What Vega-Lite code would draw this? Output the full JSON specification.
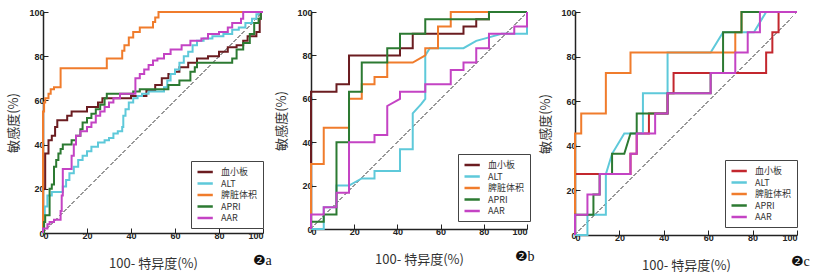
{
"$schema": "https://vega.github.io/schema/vega-lite/v6.json",
"padding": {"left": 7, "top": 8, "right": 4, "bottom": 4},
"spacing": 48,
"bounds": "flush",
"config": {
 "view": {"stroke": null},
 "axis": {"domainColor": "#222", "domainWidth": 1.5, "tickColor": "#222", "tickWidth": 1, "grid": false, "labelFont": "Liberation Sans", "labelFontWeight": "bold", "labelFontSize": 9, "labelColor": "#222", "titleFont": "Noto Sans CJK SC", "titleFontSize": 13, "titleFontWeight": "normal", "titleColor": "#333"},
 "legend": {"title": null, "orient": "none", "symbolType": "M-1,0H2.4", "symbolStrokeWidth": 2.5, "symbolSize": 81, "labelFont": "Noto Sans CJK SC", "labelFontSize": 9, "labelColor": "#333", "labelLimit": 80, "strokeColor": "#444", "fillColor": "white", "padding": 5, "rowPadding": 0.5, "labelOffset": 13}
},
"datasets": {
 "a": [
  {"s":"血小板","x":0,"y":0},{"s":"血小板","x":0,"y":20},{"s":"血小板","x":1,"y":20},{"s":"血小板","x":1,"y":36},{"s":"血小板","x":2.5,"y":36},{"s":"血小板","x":2.5,"y":42},{"s":"血小板","x":4,"y":42},{"s":"血小板","x":4,"y":44},{"s":"血小板","x":5.5,"y":44},{"s":"血小板","x":5.5,"y":48},{"s":"血小板","x":6.5,"y":48},{"s":"血小板","x":6.5,"y":51},{"s":"血小板","x":11,"y":51},{"s":"血小板","x":11,"y":53},{"s":"血小板","x":13,"y":53},{"s":"血小板","x":13,"y":55},{"s":"血小板","x":20,"y":55},{"s":"血小板","x":20,"y":57},{"s":"血小板","x":25,"y":57},{"s":"血小板","x":25,"y":59},{"s":"血小板","x":27,"y":59},{"s":"血小板","x":27,"y":61},{"s":"血小板","x":40,"y":61},{"s":"血小板","x":40,"y":62},{"s":"血小板","x":47,"y":62},{"s":"血小板","x":47,"y":64.5},{"s":"血小板","x":51,"y":64.5},{"s":"血小板","x":51,"y":67},{"s":"血小板","x":54,"y":67},{"s":"血小板","x":54,"y":70},{"s":"血小板","x":57,"y":70},{"s":"血小板","x":57,"y":72},{"s":"血小板","x":60,"y":72},{"s":"血小板","x":60,"y":73},{"s":"血小板","x":62,"y":73},{"s":"血小板","x":62,"y":75},{"s":"血小板","x":66,"y":75},{"s":"血小板","x":66,"y":77},{"s":"血小板","x":70,"y":77},{"s":"血小板","x":70,"y":79},{"s":"血小板","x":75,"y":79},{"s":"血小板","x":75,"y":80},{"s":"血小板","x":80,"y":80},{"s":"血小板","x":80,"y":82},{"s":"血小板","x":84,"y":82},{"s":"血小板","x":84,"y":84},{"s":"血小板","x":88,"y":84},{"s":"血小板","x":88,"y":85},{"s":"血小板","x":91,"y":85},{"s":"血小板","x":91,"y":87},{"s":"血小板","x":93,"y":87},{"s":"血小板","x":93,"y":89},{"s":"血小板","x":97,"y":89},{"s":"血小板","x":97,"y":91},{"s":"血小板","x":98.5,"y":91},{"s":"血小板","x":98.5,"y":97},{"s":"血小板","x":99,"y":97},{"s":"血小板","x":99,"y":100},{"s":"血小板","x":100,"y":100},
  {"s":"ALT","x":0,"y":0},{"s":"ALT","x":0,"y":5},{"s":"ALT","x":0.8,"y":5},{"s":"ALT","x":0.8,"y":12},{"s":"ALT","x":2,"y":12},{"s":"ALT","x":2,"y":17},{"s":"ALT","x":4,"y":17},{"s":"ALT","x":4,"y":18.5},{"s":"ALT","x":9,"y":18.5},{"s":"ALT","x":9,"y":21},{"s":"ALT","x":10.5,"y":21},{"s":"ALT","x":10.5,"y":24},{"s":"ALT","x":12,"y":24},{"s":"ALT","x":12,"y":27},{"s":"ALT","x":14,"y":27},{"s":"ALT","x":14,"y":30},{"s":"ALT","x":16,"y":30},{"s":"ALT","x":16,"y":33},{"s":"ALT","x":18,"y":33},{"s":"ALT","x":18,"y":35},{"s":"ALT","x":20,"y":35},{"s":"ALT","x":20,"y":37},{"s":"ALT","x":22,"y":37},{"s":"ALT","x":22,"y":39},{"s":"ALT","x":25,"y":39},{"s":"ALT","x":25,"y":41},{"s":"ALT","x":28,"y":41},{"s":"ALT","x":28,"y":42},{"s":"ALT","x":30,"y":42},{"s":"ALT","x":30,"y":43},{"s":"ALT","x":32,"y":43},{"s":"ALT","x":32,"y":45},{"s":"ALT","x":34,"y":45},{"s":"ALT","x":34,"y":46},{"s":"ALT","x":36,"y":46},{"s":"ALT","x":36,"y":48},{"s":"ALT","x":36.5,"y":48},{"s":"ALT","x":36.5,"y":53},{"s":"ALT","x":37.5,"y":53},{"s":"ALT","x":37.5,"y":56},{"s":"ALT","x":39,"y":56},{"s":"ALT","x":39,"y":59},{"s":"ALT","x":41,"y":59},{"s":"ALT","x":41,"y":61},{"s":"ALT","x":43,"y":61},{"s":"ALT","x":43,"y":62},{"s":"ALT","x":45,"y":62},{"s":"ALT","x":45,"y":63},{"s":"ALT","x":48,"y":63},{"s":"ALT","x":48,"y":64},{"s":"ALT","x":55,"y":64},{"s":"ALT","x":55,"y":66},{"s":"ALT","x":56.5,"y":66},{"s":"ALT","x":56.5,"y":69},{"s":"ALT","x":58,"y":69},{"s":"ALT","x":58,"y":72},{"s":"ALT","x":60,"y":72},{"s":"ALT","x":60,"y":74},{"s":"ALT","x":62,"y":74},{"s":"ALT","x":62,"y":77},{"s":"ALT","x":64,"y":77},{"s":"ALT","x":64,"y":80},{"s":"ALT","x":66,"y":80},{"s":"ALT","x":66,"y":82},{"s":"ALT","x":68,"y":82},{"s":"ALT","x":68,"y":85},{"s":"ALT","x":70,"y":85},{"s":"ALT","x":70,"y":87},{"s":"ALT","x":73,"y":87},{"s":"ALT","x":73,"y":88},{"s":"ALT","x":77,"y":88},{"s":"ALT","x":77,"y":89},{"s":"ALT","x":82,"y":89},{"s":"ALT","x":82,"y":90},{"s":"ALT","x":86,"y":90},{"s":"ALT","x":86,"y":92},{"s":"ALT","x":89,"y":92},{"s":"ALT","x":89,"y":93},{"s":"ALT","x":92,"y":93},{"s":"ALT","x":92,"y":95},{"s":"ALT","x":95,"y":95},{"s":"ALT","x":95,"y":97},{"s":"ALT","x":97,"y":97},{"s":"ALT","x":97,"y":99},{"s":"ALT","x":98,"y":99},{"s":"ALT","x":98,"y":100},{"s":"ALT","x":100,"y":100},
  {"s":"脾脏体积","x":0,"y":0},{"s":"脾脏体积","x":0,"y":55},{"s":"脾脏体积","x":0.5,"y":55},{"s":"脾脏体积","x":0.5,"y":59},{"s":"脾脏体积","x":1,"y":59},{"s":"脾脏体积","x":1,"y":61},{"s":"脾脏体积","x":2.5,"y":61},{"s":"脾脏体积","x":2.5,"y":63},{"s":"脾脏体积","x":3.5,"y":63},{"s":"脾脏体积","x":3.5,"y":65},{"s":"脾脏体积","x":5,"y":65},{"s":"脾脏体积","x":5,"y":66},{"s":"脾脏体积","x":8,"y":66},{"s":"脾脏体积","x":8,"y":74.5},{"s":"脾脏体积","x":29,"y":74.5},{"s":"脾脏体积","x":29,"y":79},{"s":"脾脏体积","x":36,"y":79},{"s":"脾脏体积","x":36,"y":82.5},{"s":"脾脏体积","x":37,"y":82.5},{"s":"脾脏体积","x":37,"y":85},{"s":"脾脏体积","x":39,"y":85},{"s":"脾脏体积","x":39,"y":88.5},{"s":"脾脏体积","x":41,"y":88.5},{"s":"脾脏体积","x":41,"y":91},{"s":"脾脏体积","x":44,"y":91},{"s":"脾脏体积","x":44,"y":93},{"s":"脾脏体积","x":50,"y":93},{"s":"脾脏体积","x":50,"y":95.5},{"s":"脾脏体积","x":51,"y":95.5},{"s":"脾脏体积","x":51,"y":97.5},{"s":"脾脏体积","x":52.5,"y":97.5},{"s":"脾脏体积","x":52.5,"y":100},{"s":"脾脏体积","x":100,"y":100},
  {"s":"APRI","x":0,"y":0},{"s":"APRI","x":0.5,"y":0},{"s":"APRI","x":0.5,"y":5},{"s":"APRI","x":1,"y":5},{"s":"APRI","x":1,"y":8},{"s":"APRI","x":3,"y":8},{"s":"APRI","x":3,"y":20},{"s":"APRI","x":4,"y":20},{"s":"APRI","x":4,"y":22},{"s":"APRI","x":5,"y":22},{"s":"APRI","x":5,"y":30},{"s":"APRI","x":6,"y":30},{"s":"APRI","x":6,"y":33},{"s":"APRI","x":7,"y":33},{"s":"APRI","x":7,"y":36},{"s":"APRI","x":8,"y":36},{"s":"APRI","x":8,"y":38},{"s":"APRI","x":9,"y":38},{"s":"APRI","x":9,"y":40},{"s":"APRI","x":13,"y":40},{"s":"APRI","x":13,"y":42},{"s":"APRI","x":15,"y":42},{"s":"APRI","x":15,"y":44},{"s":"APRI","x":17,"y":44},{"s":"APRI","x":17,"y":47},{"s":"APRI","x":18,"y":47},{"s":"APRI","x":18,"y":50},{"s":"APRI","x":20,"y":50},{"s":"APRI","x":20,"y":52},{"s":"APRI","x":22,"y":52},{"s":"APRI","x":22,"y":54},{"s":"APRI","x":24,"y":54},{"s":"APRI","x":24,"y":56},{"s":"APRI","x":26,"y":56},{"s":"APRI","x":26,"y":58},{"s":"APRI","x":28,"y":58},{"s":"APRI","x":28,"y":61},{"s":"APRI","x":29,"y":61},{"s":"APRI","x":29,"y":63},{"s":"APRI","x":41,"y":63},{"s":"APRI","x":41,"y":64},{"s":"APRI","x":44,"y":64},{"s":"APRI","x":44,"y":65},{"s":"APRI","x":57,"y":65},{"s":"APRI","x":57,"y":67},{"s":"APRI","x":62,"y":67},{"s":"APRI","x":62,"y":69},{"s":"APRI","x":67,"y":69},{"s":"APRI","x":67,"y":73},{"s":"APRI","x":69,"y":73},{"s":"APRI","x":69,"y":75},{"s":"APRI","x":70,"y":75},{"s":"APRI","x":70,"y":77},{"s":"APRI","x":86,"y":77},{"s":"APRI","x":86,"y":79},{"s":"APRI","x":88,"y":79},{"s":"APRI","x":88,"y":83},{"s":"APRI","x":91,"y":83},{"s":"APRI","x":91,"y":86},{"s":"APRI","x":94,"y":86},{"s":"APRI","x":94,"y":90},{"s":"APRI","x":96,"y":90},{"s":"APRI","x":96,"y":95},{"s":"APRI","x":98,"y":95},{"s":"APRI","x":98,"y":97},{"s":"APRI","x":99,"y":97},{"s":"APRI","x":99,"y":100},{"s":"APRI","x":100,"y":100},
  {"s":"AAR","x":0,"y":0},{"s":"AAR","x":0,"y":2},{"s":"AAR","x":2,"y":2},{"s":"AAR","x":2,"y":4},{"s":"AAR","x":3,"y":4},{"s":"AAR","x":3,"y":5},{"s":"AAR","x":5,"y":5},{"s":"AAR","x":5,"y":6},{"s":"AAR","x":8,"y":6},{"s":"AAR","x":8,"y":10},{"s":"AAR","x":8.5,"y":10},{"s":"AAR","x":8.5,"y":17},{"s":"AAR","x":9,"y":17},{"s":"AAR","x":9,"y":29},{"s":"AAR","x":13,"y":29},{"s":"AAR","x":13,"y":35},{"s":"AAR","x":14,"y":35},{"s":"AAR","x":14,"y":40},{"s":"AAR","x":15,"y":40},{"s":"AAR","x":15,"y":44},{"s":"AAR","x":17,"y":44},{"s":"AAR","x":17,"y":46},{"s":"AAR","x":20,"y":46},{"s":"AAR","x":20,"y":48},{"s":"AAR","x":22,"y":48},{"s":"AAR","x":22,"y":50},{"s":"AAR","x":24,"y":50},{"s":"AAR","x":24,"y":53},{"s":"AAR","x":26,"y":53},{"s":"AAR","x":26,"y":55},{"s":"AAR","x":28,"y":55},{"s":"AAR","x":28,"y":57},{"s":"AAR","x":30,"y":57},{"s":"AAR","x":30,"y":59},{"s":"AAR","x":32,"y":59},{"s":"AAR","x":32,"y":61},{"s":"AAR","x":35,"y":61},{"s":"AAR","x":35,"y":63},{"s":"AAR","x":42,"y":63},{"s":"AAR","x":42,"y":70},{"s":"AAR","x":44,"y":70},{"s":"AAR","x":44,"y":72},{"s":"AAR","x":46,"y":72},{"s":"AAR","x":46,"y":74},{"s":"AAR","x":48,"y":74},{"s":"AAR","x":48,"y":76},{"s":"AAR","x":50,"y":76},{"s":"AAR","x":50,"y":78},{"s":"AAR","x":52,"y":78},{"s":"AAR","x":52,"y":79},{"s":"AAR","x":55,"y":79},{"s":"AAR","x":55,"y":81},{"s":"AAR","x":58,"y":81},{"s":"AAR","x":58,"y":83},{"s":"AAR","x":63,"y":83},{"s":"AAR","x":63,"y":85},{"s":"AAR","x":67,"y":85},{"s":"AAR","x":67,"y":87},{"s":"AAR","x":72,"y":87},{"s":"AAR","x":72,"y":88},{"s":"AAR","x":75,"y":88},{"s":"AAR","x":75,"y":90},{"s":"AAR","x":80,"y":90},{"s":"AAR","x":80,"y":91},{"s":"AAR","x":84,"y":91},{"s":"AAR","x":84,"y":93},{"s":"AAR","x":86,"y":93},{"s":"AAR","x":86,"y":95},{"s":"AAR","x":90,"y":95},{"s":"AAR","x":90,"y":97},{"s":"AAR","x":91,"y":97},{"s":"AAR","x":91,"y":100},{"s":"AAR","x":100,"y":100}
 ],
 "b": [
  {"s":"血小板","x":0,"y":0},{"s":"血小板","x":0,"y":63.3},{"s":"血小板","x":11.8,"y":63.3},{"s":"血小板","x":11.8,"y":66.7},{"s":"血小板","x":17.6,"y":66.7},{"s":"血小板","x":17.6,"y":80},{"s":"血小板","x":41.2,"y":80},{"s":"血小板","x":41.2,"y":83.3},{"s":"血小板","x":47.1,"y":83.3},{"s":"血小板","x":47.1,"y":90},{"s":"血小板","x":70.6,"y":90},{"s":"血小板","x":70.6,"y":93.3},{"s":"血小板","x":76.5,"y":93.3},{"s":"血小板","x":76.5,"y":96.7},{"s":"血小板","x":82.4,"y":96.7},{"s":"血小板","x":82.4,"y":100},{"s":"血小板","x":100,"y":100},
  {"s":"ALT","x":0,"y":0},{"s":"ALT","x":5.9,"y":0},{"s":"ALT","x":5.9,"y":10},{"s":"ALT","x":11.8,"y":10},{"s":"ALT","x":11.8,"y":20},{"s":"ALT","x":17.6,"y":20},{"s":"ALT","x":23.5,"y":23.3},{"s":"ALT","x":29.4,"y":23.3},{"s":"ALT","x":29.4,"y":26.7},{"s":"ALT","x":41.2,"y":26.7},{"s":"ALT","x":41.2,"y":36.7},{"s":"ALT","x":47.1,"y":36.7},{"s":"ALT","x":47.1,"y":53.3},{"s":"ALT","x":51,"y":57.5},{"s":"ALT","x":52.9,"y":60},{"s":"ALT","x":52.9,"y":80},{"s":"ALT","x":55,"y":83.3},{"s":"ALT","x":70.6,"y":83.3},{"s":"ALT","x":76.5,"y":86.7},{"s":"ALT","x":82.4,"y":88.3},{"s":"ALT","x":88.2,"y":90},{"s":"ALT","x":100,"y":90},{"s":"ALT","x":100,"y":100},
  {"s":"脾脏体积","x":0,"y":0},{"s":"脾脏体积","x":0,"y":30},{"s":"脾脏体积","x":5.9,"y":30},{"s":"脾脏体积","x":5.9,"y":46.7},{"s":"脾脏体积","x":17.6,"y":46.7},{"s":"脾脏体积","x":17.6,"y":60},{"s":"脾脏体积","x":23.5,"y":60},{"s":"脾脏体积","x":23.5,"y":66.7},{"s":"脾脏体积","x":29.4,"y":66.7},{"s":"脾脏体积","x":29.4,"y":70},{"s":"脾脏体积","x":35.3,"y":70},{"s":"脾脏体积","x":35.3,"y":76.7},{"s":"脾脏体积","x":47.1,"y":76.7},{"s":"脾脏体积","x":52.9,"y":80},{"s":"脾脏体积","x":52.9,"y":83.3},{"s":"脾脏体积","x":58.8,"y":83.3},{"s":"脾脏体积","x":58.8,"y":93.3},{"s":"脾脏体积","x":64.7,"y":93.3},{"s":"脾脏体积","x":64.7,"y":100},{"s":"脾脏体积","x":100,"y":100},
  {"s":"APRI","x":0,"y":0},{"s":"APRI","x":0,"y":3.3},{"s":"APRI","x":5.9,"y":3.3},{"s":"APRI","x":5.9,"y":6.7},{"s":"APRI","x":11.8,"y":6.7},{"s":"APRI","x":11.8,"y":40},{"s":"APRI","x":17.6,"y":40},{"s":"APRI","x":17.6,"y":63.3},{"s":"APRI","x":23.5,"y":63.3},{"s":"APRI","x":23.5,"y":76.7},{"s":"APRI","x":35.3,"y":76.7},{"s":"APRI","x":35.3,"y":83.3},{"s":"APRI","x":41.2,"y":83.3},{"s":"APRI","x":41.2,"y":90},{"s":"APRI","x":52.9,"y":90},{"s":"APRI","x":52.9,"y":96.7},{"s":"APRI","x":82.4,"y":96.7},{"s":"APRI","x":82.4,"y":100},{"s":"APRI","x":100,"y":100},
  {"s":"AAR","x":0,"y":0},{"s":"AAR","x":0,"y":6.7},{"s":"AAR","x":5.9,"y":6.7},{"s":"AAR","x":5.9,"y":10},{"s":"AAR","x":11.8,"y":10},{"s":"AAR","x":11.8,"y":16.7},{"s":"AAR","x":17.6,"y":16.7},{"s":"AAR","x":17.6,"y":40},{"s":"AAR","x":29.4,"y":40},{"s":"AAR","x":29.4,"y":43.3},{"s":"AAR","x":35.3,"y":43.3},{"s":"AAR","x":35.3,"y":56.7},{"s":"AAR","x":41.2,"y":60},{"s":"AAR","x":41.2,"y":63.3},{"s":"AAR","x":52.9,"y":63.3},{"s":"AAR","x":52.9,"y":66.7},{"s":"AAR","x":64.7,"y":66.7},{"s":"AAR","x":64.7,"y":73.3},{"s":"AAR","x":70.6,"y":73.3},{"s":"AAR","x":70.6,"y":76.7},{"s":"AAR","x":76.5,"y":76.7},{"s":"AAR","x":76.5,"y":83.3},{"s":"AAR","x":82.4,"y":83.3},{"s":"AAR","x":82.4,"y":90},{"s":"AAR","x":94.1,"y":90},{"s":"AAR","x":94.1,"y":93.3},{"s":"AAR","x":100,"y":93.3},{"s":"AAR","x":100,"y":100}
 ],
 "c": [
  {"s":"血小板","x":0,"y":0},{"s":"血小板","x":0,"y":27.3},{"s":"血小板","x":25,"y":27.3},{"s":"血小板","x":25,"y":36.4},{"s":"血小板","x":27.8,"y":36.4},{"s":"血小板","x":27.8,"y":45.5},{"s":"血小板","x":33.3,"y":45.5},{"s":"血小板","x":33.3,"y":54.5},{"s":"血小板","x":41.7,"y":54.5},{"s":"血小板","x":41.7,"y":63.6},{"s":"血小板","x":44.4,"y":63.6},{"s":"血小板","x":44.4,"y":72.7},{"s":"血小板","x":86.1,"y":72.7},{"s":"血小板","x":86.1,"y":81.8},{"s":"血小板","x":88.9,"y":81.8},{"s":"血小板","x":88.9,"y":90.9},{"s":"血小板","x":91.7,"y":90.9},{"s":"血小板","x":91.7,"y":100},{"s":"血小板","x":100,"y":100},
  {"s":"ALT","x":0,"y":0},{"s":"ALT","x":5.6,"y":0},{"s":"ALT","x":5.6,"y":9.1},{"s":"ALT","x":13.9,"y":9.1},{"s":"ALT","x":13.9,"y":27.3},{"s":"ALT","x":16.7,"y":36.4},{"s":"ALT","x":22.2,"y":45.5},{"s":"ALT","x":30.6,"y":45.5},{"s":"ALT","x":30.6,"y":63.6},{"s":"ALT","x":41.7,"y":63.6},{"s":"ALT","x":41.7,"y":81.8},{"s":"ALT","x":61.1,"y":81.8},{"s":"ALT","x":66.7,"y":90.9},{"s":"ALT","x":80.6,"y":90.9},{"s":"ALT","x":86.1,"y":100},{"s":"ALT","x":100,"y":100},
  {"s":"脾脏体积","x":0,"y":0},{"s":"脾脏体积","x":0,"y":45.5},{"s":"脾脏体积","x":2.8,"y":45.5},{"s":"脾脏体积","x":2.8,"y":54.5},{"s":"脾脏体积","x":13.9,"y":54.5},{"s":"脾脏体积","x":13.9,"y":72.7},{"s":"脾脏体积","x":25,"y":72.7},{"s":"脾脏体积","x":25,"y":81.8},{"s":"脾脏体积","x":72.2,"y":81.8},{"s":"脾脏体积","x":72.2,"y":90.9},{"s":"脾脏体积","x":75,"y":90.9},{"s":"脾脏体积","x":75,"y":100},{"s":"脾脏体积","x":100,"y":100},
  {"s":"APRI","x":0,"y":0},{"s":"APRI","x":0,"y":9.1},{"s":"APRI","x":8.3,"y":9.1},{"s":"APRI","x":8.3,"y":18.2},{"s":"APRI","x":11.1,"y":18.2},{"s":"APRI","x":11.1,"y":27.3},{"s":"APRI","x":16.7,"y":27.3},{"s":"APRI","x":16.7,"y":36.4},{"s":"APRI","x":22.2,"y":36.4},{"s":"APRI","x":25,"y":45.5},{"s":"APRI","x":27.8,"y":45.5},{"s":"APRI","x":27.8,"y":54.5},{"s":"APRI","x":41.7,"y":54.5},{"s":"APRI","x":41.7,"y":63.6},{"s":"APRI","x":61.1,"y":63.6},{"s":"APRI","x":61.1,"y":72.7},{"s":"APRI","x":66.7,"y":72.7},{"s":"APRI","x":66.7,"y":90.9},{"s":"APRI","x":75,"y":90.9},{"s":"APRI","x":75,"y":100},{"s":"APRI","x":100,"y":100},
  {"s":"AAR","x":0,"y":0},{"s":"AAR","x":0,"y":9.1},{"s":"AAR","x":5.6,"y":9.1},{"s":"AAR","x":5.6,"y":18.2},{"s":"AAR","x":11.1,"y":18.2},{"s":"AAR","x":11.1,"y":27.3},{"s":"AAR","x":25,"y":27.3},{"s":"AAR","x":25,"y":36.4},{"s":"AAR","x":27.8,"y":36.4},{"s":"AAR","x":27.8,"y":45.5},{"s":"AAR","x":36.1,"y":45.5},{"s":"AAR","x":36.1,"y":54.5},{"s":"AAR","x":41.7,"y":54.5},{"s":"AAR","x":41.7,"y":63.6},{"s":"AAR","x":61.1,"y":63.6},{"s":"AAR","x":61.1,"y":72.7},{"s":"AAR","x":72.2,"y":72.7},{"s":"AAR","x":72.2,"y":81.8},{"s":"AAR","x":77.8,"y":81.8},{"s":"AAR","x":77.8,"y":90.9},{"s":"AAR","x":83.3,"y":90.9},{"s":"AAR","x":83.3,"y":100},{"s":"AAR","x":100,"y":100}
 ]
},
"resolve": {"scale": {"color": "independent"}, "legend": {"color": "independent"}},
"hconcat": [
 {
  "width": 220, "height": 221,
  "data": {"name": "a"},
  "layer": [
   {"mark": {"type": "rule", "color": "#999", "strokeDash": [3, 3], "strokeWidth": 1},
    "encoding": {"x": {"datum": 0, "type": "quantitative"}, "y": {"datum": 0, "type": "quantitative"}, "x2": {"datum": 100}, "y2": {"datum": 100}}},
   {"mark": {"type": "line", "strokeWidth": 2},
    "encoding": {
     "x": {"field": "x", "type": "quantitative", "scale": {"domain": [0, 100], "nice": false}, "axis": {"title": "100- 特异度(%)", "values": [0,5,10,15,20,25,30,35,40,45,50,55,60,65,70,75,80,85,90,95,100], "labelExpr": "datum.value % 20 === 0 ? datum.label : ''", "tickSize": {"condition": {"test": "datum.value % 20 === 0", "value": -5}, "value": -3}, "labelPadding": 3, "titlePadding": 17}},
     "y": {"field": "y", "type": "quantitative", "scale": {"domain": [0, 100], "nice": false}, "axis": {"title": "敏感度(%)", "values": [0,5,10,15,20,25,30,35,40,45,50,55,60,65,70,75,80,85,90,95,100], "labelExpr": "datum.value % 20 === 0 ? datum.label : ''", "tickSize": {"condition": {"test": "datum.value % 20 === 0", "value": -5}, "value": -3}, "labelPadding": 4, "titlePadding": 8}},
     "color": {"field": "s", "type": "nominal", "scale": {"domain": ["血小板", "ALT", "脾脏体积", "APRI", "AAR"], "range": ["#6b1c20", "#5ec9da", "#f07c2c", "#2c7a32", "#c443c4"]}, "legend": {"legendX": 148, "legendY": 149}},
     "order": {"value": null}
    }},
   {"data": {"values": [{"t": "❷a"}]}, "mark": {"type": "text", "align": "left", "baseline": "middle", "dx": -10, "dy": 28, "font": "Liberation Serif, DejaVu Sans", "fontSize": 14, "color": "#111"},
    "encoding": {"x": {"datum": 100, "type": "quantitative"}, "y": {"datum": 0, "type": "quantitative"}, "text": {"field": "t"}}}
  ]
 },
 {
  "width": 216, "height": 217,
  "data": {"name": "b"},
  "layer": [
   {"mark": {"type": "rule", "color": "#999", "strokeDash": [3, 3], "strokeWidth": 1},
    "encoding": {"x": {"datum": 0, "type": "quantitative"}, "y": {"datum": 0, "type": "quantitative"}, "x2": {"datum": 100}, "y2": {"datum": 100}}},
   {"mark": {"type": "line", "strokeWidth": 2},
    "encoding": {
     "x": {"field": "x", "type": "quantitative", "scale": {"domain": [0, 100], "nice": false}, "axis": {"title": "100- 特异度(%)", "values": [0,5,10,15,20,25,30,35,40,45,50,55,60,65,70,75,80,85,90,95,100], "labelExpr": "datum.value % 20 === 0 ? datum.label : ''", "tickSize": {"condition": {"test": "datum.value % 20 === 0", "value": -5}, "value": -3}, "labelPadding": 3, "titlePadding": 17}},
     "y": {"field": "y", "type": "quantitative", "scale": {"domain": [0, 100], "nice": false}, "axis": {"title": "敏感度(%)", "values": [0,5,10,15,20,25,30,35,40,45,50,55,60,65,70,75,80,85,90,95,100], "labelExpr": "datum.value % 20 === 0 ? datum.label : ''", "tickSize": {"condition": {"test": "datum.value % 20 === 0", "value": -5}, "value": -3}, "labelPadding": 4, "titlePadding": 8}},
     "color": {"field": "s", "type": "nominal", "scale": {"domain": ["血小板", "ALT", "脾脏体积", "APRI", "AAR"], "range": ["#6b1c20", "#5ec9da", "#f07c2c", "#2c7a32", "#c443c4"]}, "legend": {"legendX": 147, "legendY": 142}},
     "order": {"value": null}
    }},
   {"data": {"values": [{"t": "❷b"}]}, "mark": {"type": "text", "align": "left", "baseline": "middle", "dx": -12, "dy": 28, "font": "Liberation Serif, DejaVu Sans", "fontSize": 14, "color": "#111"},
    "encoding": {"x": {"datum": 100, "type": "quantitative"}, "y": {"datum": 0, "type": "quantitative"}, "text": {"field": "t"}}}
  ]
 },
 {
  "width": 222, "height": 223,
  "data": {"name": "c"},
  "layer": [
   {"mark": {"type": "rule", "color": "#999", "strokeDash": [3, 3], "strokeWidth": 1},
    "encoding": {"x": {"datum": 0, "type": "quantitative"}, "y": {"datum": 0, "type": "quantitative"}, "x2": {"datum": 100}, "y2": {"datum": 100}}},
   {"mark": {"type": "line", "strokeWidth": 2},
    "encoding": {
     "x": {"field": "x", "type": "quantitative", "scale": {"domain": [0, 100], "nice": false}, "axis": {"title": "100- 特异度(%)", "values": [0,5,10,15,20,25,30,35,40,45,50,55,60,65,70,75,80,85,90,95,100], "labelExpr": "datum.value % 20 === 0 ? datum.label : ''", "tickSize": {"condition": {"test": "datum.value % 20 === 0", "value": -5}, "value": -3}, "labelPadding": 3, "titlePadding": 17}},
     "y": {"field": "y", "type": "quantitative", "scale": {"domain": [0, 100], "nice": false}, "axis": {"title": "敏感度(%)", "values": [0,5,10,15,20,25,30,35,40,45,50,55,60,65,70,75,80,85,90,95,100], "labelExpr": "datum.value % 20 === 0 ? datum.label : ''", "tickSize": {"condition": {"test": "datum.value % 20 === 0", "value": -5}, "value": -3}, "labelPadding": 4, "titlePadding": 8}},
     "color": {"field": "s", "type": "nominal", "scale": {"domain": ["血小板", "ALT", "脾脏体积", "APRI", "AAR"], "range": ["#c3272e", "#5ec9da", "#f07c2c", "#2c7a32", "#c443c4"]}, "legend": {"legendX": 150, "legendY": 148}},
     "order": {"value": null}
    }},
   {"data": {"values": [{"t": "❷c"}]}, "mark": {"type": "text", "align": "left", "baseline": "middle", "dx": -6, "dy": 27, "font": "Liberation Serif, DejaVu Sans", "fontSize": 14, "color": "#111"},
    "encoding": {"x": {"datum": 100, "type": "quantitative"}, "y": {"datum": 0, "type": "quantitative"}, "text": {"field": "t"}}}
  ]
 }
]
}
